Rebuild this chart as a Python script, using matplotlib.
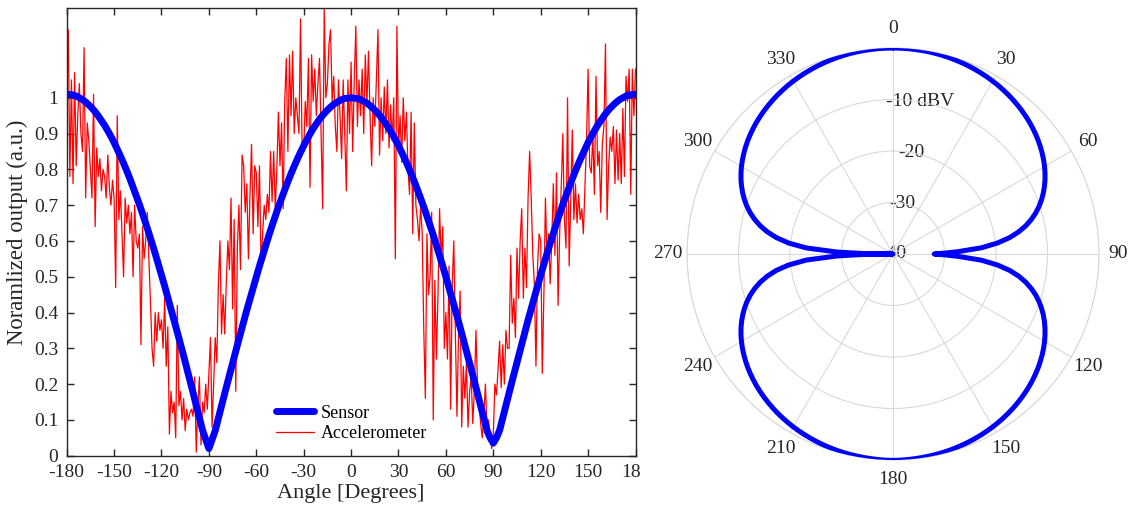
import numpy as np
import matplotlib
matplotlib.use("Agg")
import matplotlib.pyplot as plt
from matplotlib.transforms import Bbox, TransformedBbox

plt.rcParams['font.family'] = ['Liberation Serif', 'DejaVu Serif']
plt.rcParams['axes.unicode_minus'] = False

# ---------------- data ----------------
sensor_angle = list(range(-180, 181, 2))
sensor_value = [
    # -180 .. -92
    1.010, 1.009, 1.008, 1.005, 1.000, 0.995, 0.988, 0.980, 0.971, 0.961,
    0.949, 0.936, 0.923, 0.908, 0.892, 0.875, 0.856, 0.837, 0.817, 0.796,
    0.774, 0.750, 0.726, 0.702, 0.676, 0.649, 0.622, 0.594, 0.565, 0.535,
    0.505, 0.474, 0.442, 0.411, 0.379, 0.345, 0.312, 0.279, 0.244, 0.210,
    0.176, 0.140, 0.106, 0.071, 0.045,
    # -90
    0.020,
    # -88 .. -2
    0.045, 0.070, 0.105, 0.139, 0.174, 0.208, 0.242, 0.276, 0.309, 0.342,
    0.375, 0.407, 0.438, 0.469, 0.500, 0.530, 0.559, 0.588, 0.616, 0.643,
    0.669, 0.695, 0.719, 0.743, 0.766, 0.788, 0.809, 0.829, 0.848, 0.866,
    0.883, 0.899, 0.914, 0.927, 0.940, 0.951, 0.961, 0.970, 0.978, 0.985,
    0.990, 0.995, 0.998, 0.999,
    # 0
    1.000,
    # 2 .. 88
    0.999, 0.998, 0.995, 0.990, 0.985, 0.978, 0.970, 0.961, 0.951, 0.940,
    0.927, 0.914, 0.899, 0.883, 0.866, 0.848, 0.829, 0.809, 0.788, 0.766,
    0.743, 0.719, 0.695, 0.669, 0.643, 0.616, 0.588, 0.559, 0.530, 0.500,
    0.469, 0.438, 0.407, 0.375, 0.342, 0.309, 0.276, 0.242, 0.208, 0.174,
    0.139, 0.105, 0.070, 0.050,
    # 90
    0.035,
    # 92 .. 180
    0.050, 0.071, 0.106, 0.140, 0.176, 0.210, 0.244, 0.279, 0.312, 0.345,
    0.379, 0.411, 0.442, 0.474, 0.505, 0.535, 0.565, 0.594, 0.622, 0.649,
    0.676, 0.702, 0.726, 0.750, 0.774, 0.796, 0.817, 0.837, 0.856, 0.875,
    0.892, 0.908, 0.923, 0.936, 0.949, 0.961, 0.971, 0.980, 0.988, 0.995,
    1.000, 1.005, 1.008, 1.009, 1.010]

accel_angle = list(range(-180, 181))
accel_value = [
    1.00, 1.19, 0.78, 1.05, 0.76, 1.07, 0.81, 0.95, 1.04, 0.90,   # -180..-171
    0.85, 1.14, 0.72, 0.93, 0.88, 0.80, 0.72, 1.01, 0.64, 0.86,   # -170..-161
    0.78, 0.83, 0.74, 0.80, 0.78, 0.72, 0.84, 0.75, 0.70, 0.77,   # -160..-151
    0.72, 0.47, 0.95, 0.66, 0.74, 0.62, 0.50, 0.72, 0.65, 0.70,   # -150..-141
    0.62, 0.68, 0.50, 0.70, 0.60, 0.58, 0.62, 0.31, 0.64, 0.55,   # -140..-131
    0.60, 0.68, 0.55, 0.43, 0.30, 0.25, 0.40, 0.32, 0.40, 0.35,   # -130..-121
    0.38, 0.30, 0.44, 0.25, 0.36, 0.06, 0.18, 0.12, 0.15, 0.05,   # -120..-111
    0.42, 0.14, 0.18, 0.10, 0.16, 0.07, 0.13, 0.10, 0.12, 0.13,   # -110..-101
    0.11, 0.22, 0.01, 0.14, 0.22, 0.03, 0.15, 0.12, 0.20, 0.13,   # -100..-91
    0.23, 0.33, 0.08, 0.20, 0.33, 0.26, 0.48, 0.60, 0.34, 0.45,   # -90..-81
    0.34, 0.48, 0.60, 0.52, 0.72, 0.41, 0.66, 0.18, 0.58, 0.70,   # -80..-71
    0.52, 0.84, 0.81, 0.68, 0.76, 0.55, 0.73, 0.87, 0.62, 0.81,   # -70..-61
    0.79, 0.64, 0.81, 0.53, 0.62, 0.70, 0.66, 0.73, 0.68, 0.85,   # -60..-51
    0.71, 0.85, 0.69, 0.80, 0.96, 0.81, 0.93, 0.69, 0.99, 1.11,   # -50..-41
    0.85, 1.12, 0.95, 1.13, 0.90, 1.00, 0.95, 0.90, 1.22, 0.85,   # -40..-31
    0.85, 0.99, 0.92, 1.11, 0.75, 1.12, 0.99, 1.08, 0.95, 1.04,   # -30..-21
    1.11, 0.90, 0.69, 1.25, 1.00, 1.04, 1.15, 1.19, 0.99, 1.06,   # -20..-11
    0.92, 0.85, 1.05, 0.95, 0.83, 1.05, 0.90, 0.74, 1.05, 0.90,   # -10..-1
    1.10, 0.85, 1.05, 1.20, 0.92, 1.05, 0.95, 1.08, 0.90, 1.12,   # 0..9
    0.98, 1.13, 0.95, 0.81, 1.00, 0.92, 1.05, 1.19, 0.84, 1.00,   # 10..19
    0.88, 1.03, 0.90, 1.05, 0.86, 0.98, 0.88, 1.00, 0.55, 1.20,   # 20..29
    0.85, 0.95, 0.82, 1.00, 0.88, 0.96, 0.80, 0.73, 0.96, 0.62,   # 30..39
    0.93, 0.70, 0.66, 0.60, 0.70, 0.62, 0.35, 0.16, 0.62, 0.45,   # 40..49
    0.50, 0.68, 0.10, 0.49, 0.27, 0.45, 0.69, 0.55, 0.64, 0.30,   # 50..59
    0.40, 0.27, 0.53, 0.13, 0.48, 0.60, 0.34, 0.11, 0.34, 0.46,   # 60..69
    0.08, 0.25, 0.16, 0.26, 0.08, 0.18, 0.22, 0.09, 0.18, 0.35,   # 70..79
    0.20, 0.15, 0.09, 0.05, 0.11, 0.20, 0.08, 0.10, 0.06, 0.02,   # 80..89
    0.06, 0.20, 0.17, 0.24, 0.32, 0.19, 0.31, 0.20, 0.35, 0.30,   # 90..99
    0.30, 0.56, 0.37, 0.44, 0.33, 0.58, 0.44, 0.60, 0.69, 0.44,   # 100..109
    0.58, 0.47, 0.72, 0.85, 0.72, 0.56, 0.48, 0.25, 0.53, 0.62,   # 110..119
    0.60, 0.23, 0.45, 0.72, 0.55, 0.62, 0.48, 0.60, 0.76, 0.56,   # 120..129
    0.79, 0.42, 0.62, 0.75, 0.90, 0.66, 0.58, 1.00, 0.53, 0.71,   # 130..139
    0.91, 0.66, 0.76, 0.65, 0.73, 0.66, 0.69, 0.62, 0.75, 0.88,   # 140..149
    1.08, 0.81, 0.79, 0.90, 0.73, 1.06, 0.81, 0.85, 0.68, 0.87,   # 150..159
    0.92, 1.15, 0.66, 0.81, 0.89, 0.85, 0.92, 0.76, 0.91, 0.77,   # 160..169
    0.90, 0.76, 0.97, 0.78, 1.06, 0.99, 1.08, 0.73, 1.08, 0.95,   # 170..179
    1.08]                                                         # 180

x_ticks = list(range(-180, 181, 30))
x_tick_labels = [str(v) for v in x_ticks]
y_ticks = [0, 0.1, 0.2, 0.3, 0.4, 0.5, 0.6, 0.7, 0.8, 0.9, 1.0]
y_tick_labels = ["0", "0.1", "0.2", "0.3", "0.4", "0.5", "0.6", "0.7", "0.8", "0.9", "1"]

polar_angle = (list(range(0, 89, 2)) + [89, 90, 91] + list(range(92, 269, 2))
               + [269, 270, 271] + list(range(272, 361, 2)))
polar_dbv = [
    # 0 .. 88
    0.0, -0.01, -0.02, -0.05, -0.09, -0.13, -0.19, -0.26, -0.34, -0.44,
    -0.54, -0.66, -0.79, -0.93, -1.08, -1.25, -1.43, -1.63, -1.84, -2.07,
    -2.32, -2.58, -2.86, -3.16, -3.49, -3.84, -4.21, -4.62, -5.05, -5.52,
    -6.02, -6.57, -7.16, -7.82, -8.53, -9.32, -10.2, -11.19, -12.33, -13.64,
    -15.21, -17.13, -19.62, -22.8, -27.5,
    # 89, 90, 91
    -30.0, -32.0, -30.0,
    # 92 .. 180
    -27.5, -22.8, -19.62, -17.13, -15.21, -13.64, -12.33, -11.19, -10.2, -9.32,
    -8.53, -7.82, -7.16, -6.57, -6.02, -5.52, -5.05, -4.62, -4.21, -3.84,
    -3.49, -3.16, -2.86, -2.58, -2.32, -2.07, -1.84, -1.63, -1.43, -1.25,
    -1.08, -0.93, -0.79, -0.66, -0.54, -0.44, -0.34, -0.26, -0.19, -0.13,
    -0.08, -0.03, 0.02, 0.06, 0.08,
    # 182 .. 268
    0.06, 0.02, -0.03, -0.08, -0.13, -0.19, -0.26, -0.34, -0.44, -0.54,
    -0.66, -0.79, -0.93, -1.08, -1.25, -1.43, -1.63, -1.84, -2.07, -2.32,
    -2.58, -2.86, -3.16, -3.49, -3.84, -4.21, -4.62, -5.05, -5.52, -6.02,
    -6.57, -7.16, -7.82, -8.53, -9.32, -10.2, -11.19, -12.33, -13.64, -15.21,
    -17.13, -19.62, -23.13, -29.14,
    # 269, 270, 271
    -34.0, -40.0, -34.0,
    # 272 .. 360
    -29.14, -23.13, -19.62, -17.13, -15.21, -13.64, -12.33, -11.19, -10.2, -9.32,
    -8.53, -7.82, -7.16, -6.57, -6.02, -5.52, -5.05, -4.62, -4.21, -3.84,
    -3.49, -3.16, -2.86, -2.58, -2.32, -2.07, -1.84, -1.63, -1.43, -1.25,
    -1.08, -0.93, -0.79, -0.66, -0.54, -0.44, -0.34, -0.26, -0.19, -0.13,
    -0.09, -0.05, -0.02, -0.01, 0.0]
theta_ticks = list(range(0, 360, 30))
theta_tick_labels = [str(v) for v in theta_ticks]
r_rings = [-40, -30, -20, -10, 0]
r_labels = ["-40", "-30", "-20", "-10 dBV"]

# ---------------- figure ----------------
W, H = 1130, 516
fig = plt.figure(figsize=(W / 100, H / 100), dpi=100)
txt = '#262626'

ax1 = fig.add_axes([66.7 / W, (H - 455.7) / H, 568.8 / W, 447.4 / H])
l_acc, = ax1.plot(accel_angle, accel_value, color=(1, 0, 0), lw=0.9, label='Accelerometer')
l_sen, = ax1.plot(sensor_angle, sensor_value, color=(0, 0, 1), lw=5,
                  solid_capstyle='round', solid_joinstyle='round', label='Sensor')
ax1.set_xlim(-180, 180)
ax1.set_ylim(0, 1.25)
ax1.set_xticks(x_ticks)
ax1.set_xticklabels(x_tick_labels)
ax1.set_yticks(y_ticks)
ax1.set_yticklabels(y_tick_labels)
ax1.tick_params(direction='in', length=5, width=1, colors=txt, labelsize=14,
                top=True, right=True, pad=6)
for s in ax1.spines.values():
    s.set_color(txt)
    s.set_linewidth(1.0)
ax1.set_xlabel('Angle [Degrees]', fontsize=16, color=txt, labelpad=2)
ax1.set_ylabel('Noramlized output (a.u.)', fontsize=16.4, color=txt, labelpad=4)
leg = ax1.legend(handles=[l_sen, l_acc], loc='center left',
                 bbox_to_anchor=(0.368, 0.072), frameon=False, fontsize=13,
                 handlelength=2.1, handletextpad=0.4, labelspacing=0.2,
                 borderpad=0, borderaxespad=0)

# clip the last x tick label as in the reference
fig.canvas.draw()
clipbox = TransformedBbox(Bbox([[0, 0], [640 / W, 1]]), fig.transFigure)
for lab in ax1.get_xticklabels():
    lab.set_clip_box(clipbox)
    lab.set_clip_on(True)

# ---------------- polar ----------------
ax2 = fig.add_axes([687 / W, (H - 460) / H, 412 / W, 412 / H], projection='polar')
ax2.set_theta_zero_location('N')
ax2.set_theta_direction(-1)
ax2.plot(np.deg2rad(polar_angle), polar_dbv, color=(0, 0, 1), lw=3.6,
         solid_capstyle='round', solid_joinstyle='round', zorder=3)
ax2.set_rlim(-40, 0)
ax2.set_yticks(r_rings)
ax2.set_yticklabels([])
ax2.set_xticks(np.deg2rad(theta_ticks))
ax2.set_xticklabels([])
ax2.grid(True, color='#d9d9d9', lw=0.8)
ax2.spines['polar'].set_color('#d9d9d9')
ax2.spines['polar'].set_linewidth(0.8)
# angle labels at a constant distance outside the outer ring
for t, lab in zip(theta_ticks, theta_tick_labels):
    ax2.text(np.deg2rad(t), 3.7, lab, ha='center', va='center', fontsize=14,
             color=txt, clip_on=False)
for r, lab in zip(r_rings[:-1], r_labels):
    th = 0.0 if r == -40 else np.deg2rad(10)
    ax2.text(th, r, lab, ha='center', va='center', fontsize=14, color=txt, zorder=1)

fig.savefig('out.png', dpi=100)
